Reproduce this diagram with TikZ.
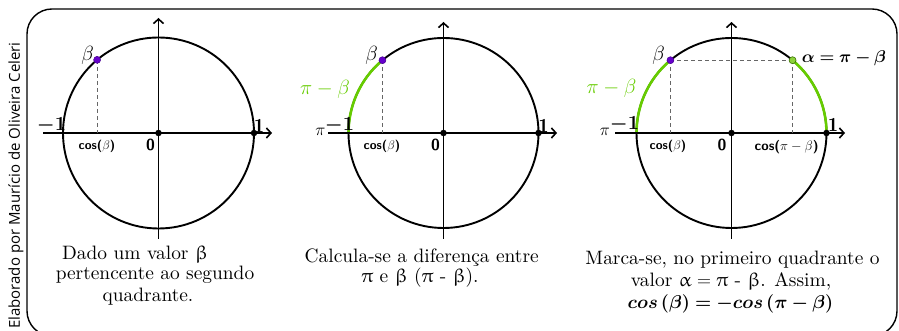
\RequirePackage{fix-cm}
\documentclass[tikz,border=0pt]{standalone}
\usepackage{fontspec}
\usepackage{amsmath,bm}
\usepackage[Euler]{upgreek}
\usetikzlibrary{arrows.meta}
\newfontfamily\sidefont{Open Sans}
\newfontfamily\capfont{lmroman10-regular.otf}
\definecolor{arcgreen}{RGB}{102,204,0}
\definecolor{dotpurple}{RGB}{102,0,204}
\definecolor{dotgreen}{RGB}{140,210,60}
\begin{document}
\begin{tikzpicture}[x=1pt,y=1pt,
 circ/.style={line width=1.9pt},
 axis/.style={line width=1.9pt,-{Straight Barb[length=4.5pt,width=10pt,line width=1.6pt]}},
 guide/.style={draw=black!60,line width=0.9pt,dash pattern=on 4pt off 3pt},
 arcg/.style={draw=arcgreen,line width=2.6pt},
 blackdot/.style={circle,fill=black,inner sep=0pt,minimum size=6.5pt},
 purpledot/.style={circle,fill=dotpurple,draw=dotpurple!70!black,line width=0.5pt,inner sep=0pt,minimum size=7pt},
 greendot/.style={circle,fill=dotgreen,draw=arcgreen!55!black,line width=0.6pt,inner sep=0pt,minimum size=7pt},
 numlab/.style={font=\fontsize{20}{22}\selectfont,inner sep=0pt},
 coslab/.style={font=\sffamily\bfseries\fontsize{12.5}{14}\selectfont,inner sep=0pt},
 zerolab/.style={font=\sffamily\bfseries\fontsize{16}{18}\selectfont,inner sep=0pt},
 betalab/.style={font=\fontsize{20.5}{22}\selectfont,inner sep=0pt},
 alab/.style={font=\fontsize{17}{20}\selectfont,inner sep=0pt},
 pilab/.style={font=\fontsize{17}{19}\selectfont,inner sep=0pt},
 greenlab/.style={font=\fontsize{20.5}{22}\selectfont,text=arcgreen,inner sep=0pt},
 caption/.style={font=\capfont\fontsize{19.4}{21}\selectfont,anchor=base,inner sep=0pt},
]
\useasboundingbox (0,0) rectangle (899,331);
\draw[line width=1.4pt, rounded corners=25pt] (27,-5) rectangle (897,322);
\node[rotate=90, anchor=base east, font=\sidefont\fontsize{15}{17}\selectfont, inner sep=0pt] (side) at (20,289) {Elaborado por Maurício de Oliveira Celeri};

% ---------- circle 1 ----------
\begin{scope}[shift={(158.5,198)}]
\coordinate (O1) at (0,0);
\coordinate (XL1) at (-115.5,0); \coordinate (XR1) at (113.5,0);
\coordinate (YB1) at (0,-106); \coordinate (YT1) at (0,115);
\coordinate (B1) at (130:95.5);
\coordinate (E1) at (0:95.5);
\coordinate (F1) at (B1 |- O1);
\draw[circ] (O1) circle[radius=95.5];
\draw[axis] (XL1) -- (XR1);
\draw[axis] (YB1) -- (YT1);
\draw[guide] (B1) -- (F1);
\node[blackdot] (o1) at (O1) {};
\node[blackdot] (e1) at (E1) {};
\node[purpledot] (b1) at (B1) {};
\node[betalab] (lb1) at (-71,78) {$\beta$};
\node[numlab] (lm1) at (-107,7.5) {$\boldsymbol{-1}$};
\node[numlab] (lp1) at (100.5,7.5) {$\mathbf{1}$};
\node[zerolab] (l01) at (-8,-12) {0};
\node[coslab] (lc1) at (-61.5,-13) {cos($\beta$)};
\end{scope}

% ---------- circle 2 ----------
\begin{scope}[shift={(443.5,198)}]
\coordinate (O2) at (0,0);
\coordinate (XL2) at (-115.5,0); \coordinate (XR2) at (113.5,0);
\coordinate (YB2) at (0,-106); \coordinate (YT2) at (0,111);
\coordinate (B2) at (130:95);
\coordinate (E2) at (0:95);
\coordinate (F2) at (B2 |- O2);
\draw[circ] (O2) circle[radius=95];
\draw[arcg] (B2) arc[start angle=130,end angle=180,radius=95];
\draw[axis] (XL2) -- (XR2);
\draw[axis] (YB2) -- (YT2);
\draw[guide] (B2) -- (F2);
\node[blackdot] (o2) at (O2) {};
\node[blackdot] (e2) at (E2) {};
\node[purpledot] (b2) at (B2) {};
\node[betalab] (lb2) at (-72,78) {$\beta$};
\node[greenlab] (lg2) at (-118.5,44) {$\pi-\beta$};
\node[pilab] (lpi2) at (-123,1) {$\pi$};
\node[numlab] (lm2) at (-104,7.5) {$\boldsymbol{-1}$};
\node[numlab] (lp2) at (100,7.5) {$\mathbf{1}$};
\node[zerolab] (l02) at (-8,-12) {0};
\node[coslab] (lc2) at (-61.5,-13) {cos($\beta$)};
\end{scope}

% ---------- circle 3 ----------
\begin{scope}[shift={(731.5,198)}]
\coordinate (O3) at (0,0);
\coordinate (XL3) at (-116.5,0); \coordinate (XR3) at (113.5,0);
\coordinate (YB3) at (0,-106); \coordinate (YT3) at (0,111);
\coordinate (B3) at (130:95);
\coordinate (A3) at (50:95);
\coordinate (E3) at (0:95);
\coordinate (F3) at (B3 |- O3);
\coordinate (G3) at (A3 |- O3);
\draw[circ] (O3) circle[radius=95];
\draw[arcg] (B3) arc[start angle=130,end angle=180,radius=95];
\draw[arcg] (A3) arc[start angle=50,end angle=0,radius=95];
\draw[axis] (XL3) -- (XR3);
\draw[axis] (YB3) -- (YT3);
\draw[guide] (B3) -- (F3);
\draw[guide] (A3) -- (G3);
\draw[guide] (B3) -- (A3);
\node[blackdot] (o3) at (O3) {};
\node[blackdot] (e3) at (E3) {};
\node[purpledot] (b3) at (B3) {};
\node[greendot] (a3) at (A3) {};
\node[betalab] (lb3) at (-73,78) {$\beta$};
\node[alab] (la3) at (112.5,74.5) {$\bm{\alpha=\pi-\beta}$};
\node[greenlab] (lg3) at (-120,45) {$\pi-\beta$};
\node[pilab] (lpi3) at (-126.5,1.5) {$\pi$};
\node[numlab] (lm3) at (-107,8.5) {$\boldsymbol{-1}$};
\node[numlab] (lp3) at (101.5,8.5) {$\mathbf{1}$};
\node[zerolab] (l03) at (-9.5,-12) {0};
\node[coslab] (lc3) at (-63.5,-13) {cos($\beta$)};
\node[coslab,font=\sffamily\bfseries\fontsize{13.5}{15}\selectfont] (lc3b) at (55.2,-14) {cos($\pi-\beta$)};
\end{scope}

% ---------- captions ----------
\node[caption] (c1a) at (135,71) {Dado um valor $\upbeta$};
\node[caption] (c1b) at (155,51) {pertencente ao segundo};
\node[caption] (c1c) at (148,29.3) {quadrante.};
\node[caption] (c2a) at (421.7,68.3) {Calcula-se a diferença entre};
\node[caption] (c2b) at (420,48.3) {$\uppi$ e $\upbeta$ ($\uppi$ - $\upbeta$).};
\node[caption] (c3a) at (732.5,66) {Marca-se, no primeiro quadrante o};
\node[caption] (c3b) at (731,44) {valor $\upalpha = \uppi$ - $\upbeta$. Assim,};
\node[caption,font=\capfont\fontsize{18.5}{21}\selectfont] (c3c) at (730.5,22) {$\bm{cos\,(\beta) = -cos\,(\pi-\beta)}$};
\end{tikzpicture}
\end{document}
